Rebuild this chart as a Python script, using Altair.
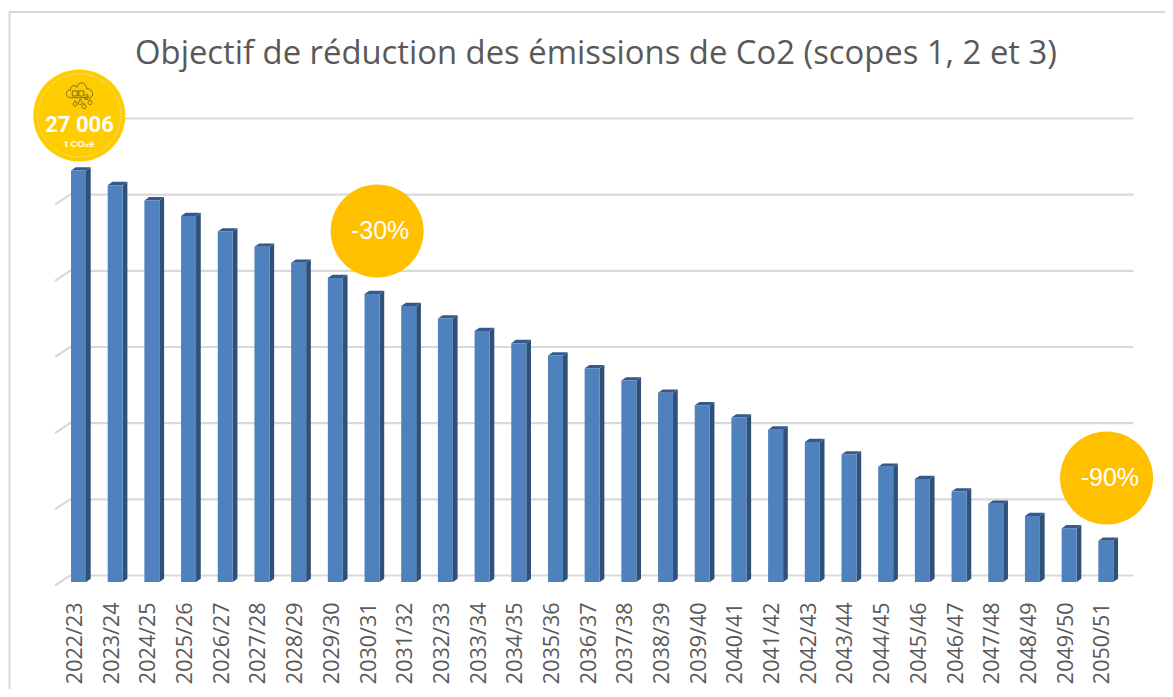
import json
import altair as alt
import pandas as pd

labels = ["2022/23","2023/24","2024/25","2025/26","2026/27","2027/28","2028/29","2029/30","2030/31",
          "2031/32","2032/33","2033/34","2034/35","2035/36","2036/37","2037/38","2038/39","2039/40",
          "2040/41","2041/42","2042/43","2043/44","2044/45","2045/46","2046/47","2047/48","2048/49",
          "2049/50","2050/51"]
values = [27006,26050,25050,24020,23000,22000,20960,19950,18904,18120,17300,16480,15680,14860,14030,
          13230,12420,11600,10800,10000,9190,8370,7570,6760,5940,5140,4330,3520,2700]
grid_values = [0,5000,10000,15000,20000,25000,30000]
title_text = "Objectif de réduction des émissions de Co2 (scopes 1, 2 et 3)"
badge_value = "27 006"
badge_unit = "t CO₂e"
callouts = [("-30%", 8.14, 23040, 8.22), ("-90%", 28.02, 6827, 28.11)]

PX_X = 36.69
PX_Y = 0.015234
HALF = 7.5 / PX_X
DX = 4.7 / PX_X
DY = 3.3 / PX_Y
W, H = 1156, 502
xdom = [(9 - 78.5) / PX_X, (1165 - 78.5) / PX_X]
ydom = [0, H / PX_Y]
xs = alt.Scale(domain=xdom, nice=False, zero=False)
ys = alt.Scale(domain=ydom, nice=False, zero=False)

x_axis = alt.Axis(
    values=list(range(len(labels))), labelExpr=json.dumps(labels) + "[datum.value]",
    labelAngle=270, labelAlign="right", labelBaseline="middle", labelFont="Open Sans",
    labelFontSize=21.5, labelColor="#595959", labelPadding=20, labelOffset=-3,
    labelOverlap=False, labelFlush=False, ticks=False, domain=False, grid=False, title=None)

bars = pd.DataFrame([{"x": i - HALF, "x2": i + HALF, "v": v, "b": 0} for i, v in enumerate(values)])
side, cap = [], []
for i, v in enumerate(values):
    r = i + HALF
    l = i - HALF
    side += [{"i": i, "x": r, "y": v, "y2": 0}, {"i": i, "x": r + DX, "y": v + DY, "y2": DY}]
    cap += [{"i": i, "x": l, "y": v, "y2": v}, {"i": i, "x": l + DX, "y": v + DY, "y2": v},
            {"i": i, "x": r, "y": v + DY, "y2": v}, {"i": i, "x": r + DX, "y": v + DY, "y2": v + DY}]
grid = []
for k, g in enumerate(grid_values):
    gv = g + 6.5 / PX_Y
    grid += [{"k": k, "o": 0, "x": (55 - 78.5) / PX_X, "y": gv - 10 / PX_Y},
             {"k": k, "o": 1, "x": (70 - 78.5) / PX_X, "y": gv},
             {"k": k, "o": 2, "x": (1133.5 - 78.5) / PX_X, "y": gv}]

X = lambda f: alt.X(f, type="quantitative", scale=xs, axis=x_axis)
Y = lambda f: alt.Y(f, type="quantitative", scale=ys, axis=None)

frame = [
    alt.Chart(pd.DataFrame({"a": [0]})).mark_rule(color="#d9d9d9", strokeWidth=2).encode(
        x=alt.value(x0), x2=alt.value(x1), y=alt.value(y0), y2=alt.value(y1))
    for x0, x1, y0, y1 in [(0.5, 0.5, -68, 609), (0, 1156, -68, -68)]
]

grid_l = alt.Chart(pd.DataFrame(grid)).mark_line(color="#d9d9d9", strokeWidth=2.2).encode(
    x=X("x"), y=Y("y"), detail="k:N", order="o:Q")

side_l = alt.Chart(pd.DataFrame(side)).mark_area(color="#2f5078", opacity=1).encode(
    x=X("x"), y=Y("y"), y2="y2:Q", detail="i:N")
cap_l = alt.Chart(pd.DataFrame(cap)).mark_area(color="#35598a", opacity=1).encode(
    x=X("x"), y=Y("y"), y2="y2:Q", detail="i:N")

front = alt.Chart(bars).mark_bar(color="#4f81bd").encode(
    x=X("x"), x2="x2:Q", y=Y("v"), y2="b:Q")

def pt(px, py):
    return {"x": (px - 78.5) / PX_X, "y": (582 - py) / PX_Y}

badge_df = pd.DataFrame([pt(79.3, 115.4)])
badge = alt.Chart(badge_df).mark_point(shape="circle", filled=True, size=92 ** 2, color="#ffcc00", opacity=1).encode(x=X("x"), y=Y("y"))
ring = alt.Chart(badge_df).mark_point(shape="circle", filled=False, size=83 ** 2, color="#fff6c8", strokeWidth=1, strokeDash=[1, 1.5], opacity=1).encode(x=X("x"), y=Y("y"))
CLOUD = ("M-0.6,0.12 C-1,0.12 -1,-0.42 -0.62,-0.42 C-0.66,-0.72 -0.3,-0.82 -0.18,-0.6 C-0.05,-1.05 0.45,-1 0.5,-0.5 "
         "C0.9,-0.55 1.1,0.1 0.66,0.12 Z M-0.5,-0.35 H-0.15 V0 H-0.5 Z M-0.05,-0.35 H0.3 V0 H-0.05 Z "
         "M0.38,-0.08 H0.58 V0.08 H0.38 V0.24 H0.58 "
         "M-0.3,0.32 L-0.44,0.55 A0.14,0.14 0 1 0 -0.16,0.55 Z M0.06,0.22 L-0.08,0.45 A0.14,0.14 0 1 0 0.2,0.45 Z "
         "M0.32,0.5 L0.18,0.73 A0.14,0.14 0 1 0 0.46,0.73 Z M0.72,0.22 L0.58,0.45 A0.14,0.14 0 1 0 0.86,0.45 Z")
icon = alt.Chart(pd.DataFrame([pt(79.5, 96)])).mark_point(shape=CLOUD, filled=False, size=29 ** 2, color="#6f6230", strokeWidth=0.9, opacity=1).encode(x=X("x"), y=Y("y"))
bt = alt.Chart(pd.DataFrame([{**pt(79.5, 125), "t": badge_value}])).mark_text(color="white", font="Roboto", fontWeight="bold", fontSize=22, baseline="middle", align="center").encode(x=X("x"), y=Y("y"), text="t:N")
bu = alt.Chart(pd.DataFrame([{**pt(79.5, 143.5), "t": badge_unit}])).mark_text(color="white", font="Liberation Sans", fontWeight="bold", fontSize=9.5, baseline="middle", align="center").encode(x=X("x"), y=Y("y"), text="t:N")

call_df = pd.DataFrame([{"x": c[1], "y": c[2]} for c in callouts])
call_c = alt.Chart(call_df).mark_point(shape="circle", filled=True, size=93 ** 2, color="#ffc000", opacity=1).encode(x=X("x"), y=Y("y"))
call_t = alt.Chart(pd.DataFrame([{"x": c[3], "y": c[2], "t": c[0]} for c in callouts])).mark_text(color="white", font="Liberation Sans", fontSize=25, baseline="middle", align="center").encode(x=X("x"), y=Y("y"), text="t:N")

chart = alt.layer(*frame, grid_l, side_l, cap_l, front, badge, ring, icon, bt, bu, call_c, call_t).properties(
    width=W, height=H,
    title=alt.TitleParams(title_text, font="Open Sans", fontSize=32.8, fontWeight="normal", color="#595959",
                          anchor="middle", dx=9, offset=0, dy=60),
    padding={"left": 1, "top": 72, "right": 0, "bottom": 107},
    autosize=alt.AutoSizeParams(type="none"),
    background="white",
).configure_view(stroke=None)

chart.save("out.html", embed_options={"renderer": "svg", "actions": False})
